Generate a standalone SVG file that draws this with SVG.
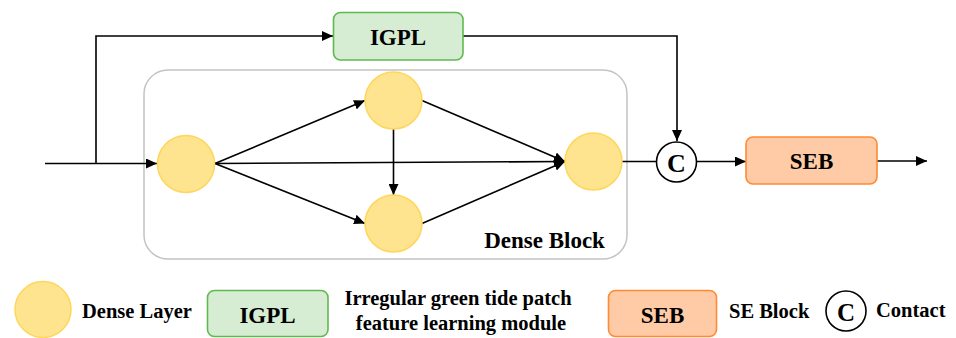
<svg xmlns="http://www.w3.org/2000/svg" width="956" height="338" viewBox="0 0 956 338">
<defs>
<marker id="arr" markerUnits="userSpaceOnUse" markerWidth="12" markerHeight="10" refX="11" refY="5" orient="auto">
<path d="M0,0 L11,5 L0,10 Z" fill="#000"/>
</marker>
<style>
.t{font-family:"Liberation Serif","Times New Roman",serif;font-weight:bold;fill:#000}
.dl{fill:#FFE48F;stroke:#FFD65C;stroke-width:1.5}
.igpl{fill:#D7EDD3;stroke:#5FB94F;stroke-width:1.6}
.seb{fill:#FFCAA6;stroke:#FF8A33;stroke-width:1.6}
.cc{fill:#fff;stroke:#000;stroke-width:1.6}
.e{fill:none;stroke:#000;stroke-width:1.6}
.ea{fill:none;stroke:#000;stroke-width:1.6;marker-end:url(#arr)}
</style>
</defs>
<rect width="956" height="338" fill="#fff"/>
<g id="dense-block">
<rect x="144" y="70" width="483" height="189" rx="24" fill="none" stroke="#C4C4C4" stroke-width="1.5"/>
<text class="t" x="544.5" y="248" font-size="23" text-anchor="middle">Dense Block</text>
</g>
<g id="connectors">
<path class="ea" d="M45,163.5 H157"/>
<path class="ea" d="M96,163.5 V36 H333"/>
<path class="ea" d="M463,36 H677 V141"/>
<path class="ea" d="M215,163.5 L365,100.5"/>
<path class="ea" d="M215,163.5 L365,223.5"/>
<path class="ea" d="M215,163.5 L565,161.5"/>
<path class="ea" d="M393.5,129 L393.5,195"/>
<path class="ea" d="M422,100.5 L565,161.5"/>
<path class="ea" d="M422,223.5 L565,161.5"/>
<path class="e" d="M622,161.5 H656"/>
<path class="ea" d="M697,161.5 H746"/>
<path class="ea" d="M877,161 H927"/>
</g>
<g id="n1"><circle class="dl" cx="186" cy="164" r="28.5"/></g>
<g id="n2"><circle class="dl" cx="393.5" cy="100.5" r="28.5"/></g>
<g id="n3"><circle class="dl" cx="393.5" cy="223.5" r="28.5"/></g>
<g id="n4"><circle class="dl" cx="593.5" cy="161.5" r="28.5"/></g>
<g id="igpl">
<rect class="igpl" x="333.5" y="12.5" width="129.5" height="47.5" rx="7"/>
<text class="t" x="398" y="45" font-size="23" text-anchor="middle">IGPL</text>
</g>
<g id="concat">
<circle class="cc" cx="676.5" cy="162" r="20"/>
<text class="t" x="676.5" y="171.5" font-size="26" text-anchor="middle">C</text>
</g>
<g id="seb">
<rect class="seb" x="746" y="137" width="131" height="47" rx="7"/>
<text class="t" x="811.5" y="168.5" font-size="23" text-anchor="middle">SEB</text>
</g>
<g id="legend">
<circle class="dl" cx="43" cy="309.5" r="28"/>
<text class="t" x="82" y="317.5" font-size="20.5">Dense Layer</text>
<rect class="igpl" x="207.5" y="290.5" width="120.5" height="46" rx="7"/>
<text class="t" x="267.5" y="322.5" font-size="23" text-anchor="middle">IGPL</text>
<text class="t" x="458" y="305" font-size="20.5" text-anchor="middle">Irregular green tide patch</text>
<text class="t" x="461" y="330" font-size="20.5" text-anchor="middle">feature learning module</text>
<rect class="seb" x="608.5" y="290.5" width="108" height="46" rx="7"/>
<text class="t" x="662.5" y="322.5" font-size="23" text-anchor="middle">SEB</text>
<text class="t" x="729" y="318" font-size="20.5">SE Block</text>
<circle class="cc" cx="846" cy="311" r="20"/>
<text class="t" x="846" y="321" font-size="25" text-anchor="middle">C</text>
<text class="t" x="876" y="317" font-size="20.5">Contact</text>
</g>
</svg>
